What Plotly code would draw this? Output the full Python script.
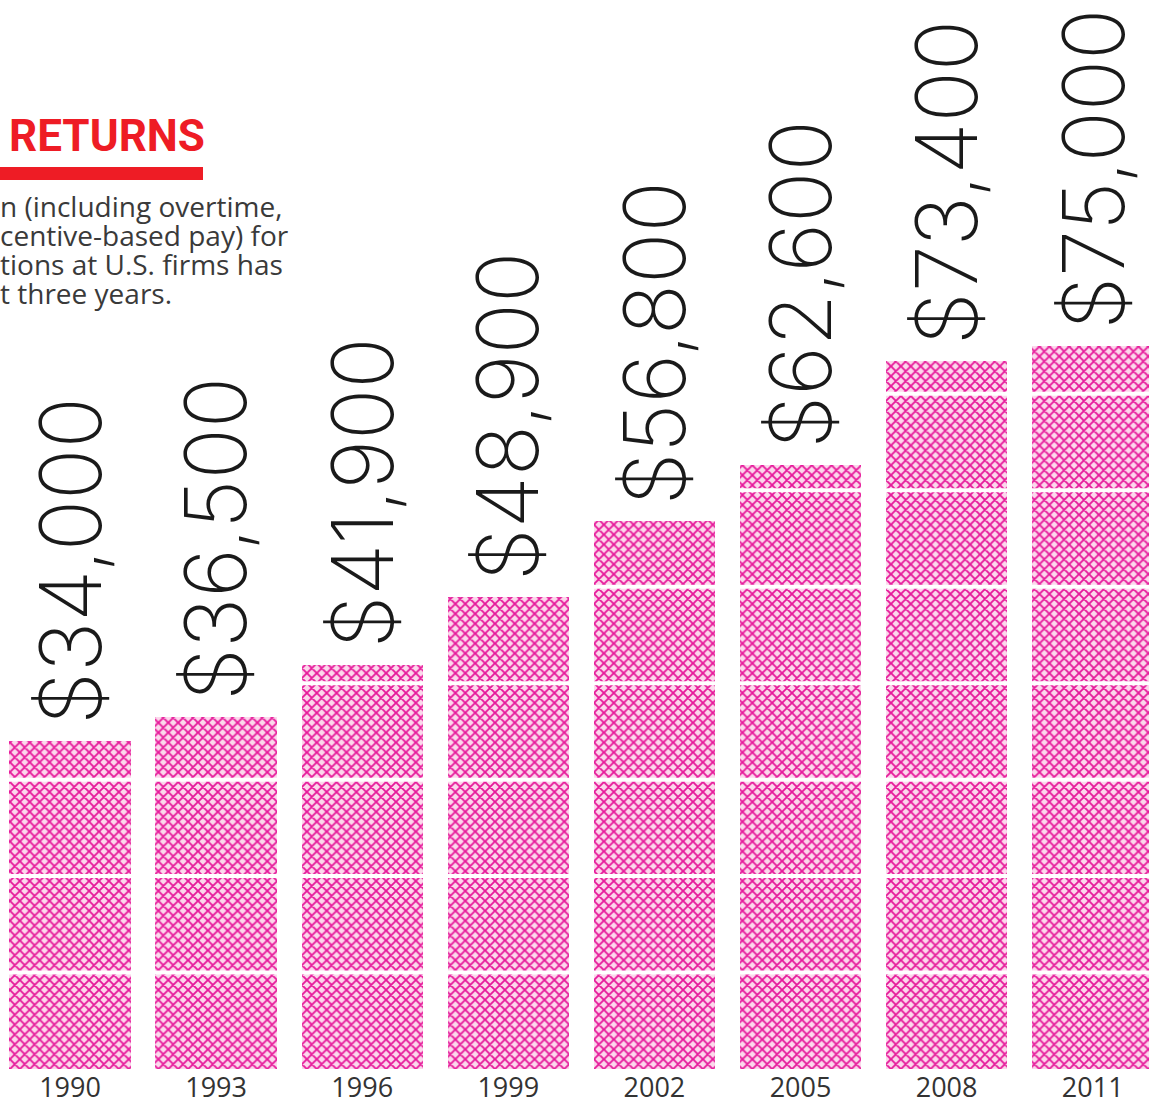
import plotly.graph_objects as go

# Median compensation by survey year
years = ["1990", "1993", "1996", "1999", "2002", "2005", "2008", "2011"]
values = [34000, 36500, 41900, 48900, 56800, 62600, 73400, 75000]
value_labels = ["$34,000", "$36,500", "$41,900", "$48,900",
                "$56,800", "$62,600", "$73,400", "$75,000"]
band_step = 10000

title_text = "RETURNS"
subtitle_lines = ["n (including overtime,",
                  "centive-based pay) for",
                  "tions at U.S. firms has",
                  "t three years."]

W, H = 1149, 1102
PLOT_H = H - 33
PINK = "#e6189a"

fig = go.Figure()
fig.add_trace(go.Bar(
    x=list(range(len(years))),
    y=values,
    width=0.83,
    marker=dict(
        color="#f9c4e2",
        line=dict(width=0),
        pattern=dict(shape="x", fgcolor=PINK, bgcolor="#fcd8ec",
                     size=7, solidity=0.45, fillmode="replace"),
    ),
    hoverinfo="skip",
))

shapes = []
# white separators every 10,000 inside each bar
for i, v in enumerate(values):
    k = band_step
    while k < v:
        shapes.append(dict(type="line", xref="x", yref="y",
                           x0=i - 0.43, x1=i + 0.43, y0=k, y1=k,
                           line=dict(color="white", width=4), layer="above"))
        k += band_step

# red rule under the heading
shapes.append(dict(type="rect", xref="paper", yref="paper",
                   x0=-0.01, x1=203 / W, y0=1 - 180 / PLOT_H, y1=1 - 167 / PLOT_H,
                   fillcolor="#ee1c25", line=dict(width=0), layer="above"))

annotations = []
for i, (v, lab) in enumerate(zip(values, value_labels)):
    annotations.append(dict(
        x=i, y=v, xref="x", yref="y", text=lab, showarrow=False,
        textangle=-90, xanchor="center", yanchor="bottom", yshift=14,
        font=dict(family="Inter", size=85, color="#1a1a1a", weight=200),
    ))

annotations.append(dict(
    x=7 / W, y=1 - 164 / PLOT_H, xref="paper", yref="paper",
    text=title_text, showarrow=False, xanchor="left", yanchor="bottom",
    font=dict(family="Roboto", size=44, color="#ee1c25", weight=700),
))

# description lines, each placed on a 29 px baseline grid
for j, line in enumerate(subtitle_lines):
    annotations.append(dict(
        x=-2 / W, y=1 - (206 + 29 * j) / PLOT_H, xref="paper", yref="paper",
        text=line, showarrow=False, xanchor="left", yanchor="middle",
        align="left",
        font=dict(family="Open Sans", size=28, color="#3a3a3a"),
    ))

# category spacing of ~146 px, first bar centered near x=70
spacing = 146.1
x0 = -70 / spacing
x1 = x0 + W / spacing

fig.update_layout(
    width=W, height=H,
    margin=dict(l=0, r=0, t=0, b=33),
    paper_bgcolor="white", plot_bgcolor="white",
    showlegend=False,
    bargap=0,
    xaxis=dict(range=[x0, x1], tickvals=list(range(len(years))),
               ticktext=years, showgrid=False, zeroline=False, showline=False,
               ticks="", automargin=False, ticklabelstandoff=0,
               tickfont=dict(family="Open Sans", size=27, color="#333333")),
    yaxis=dict(range=[0, PLOT_H / 9.645 * 1000], visible=False,
               showgrid=False, zeroline=False, automargin=False),
    shapes=shapes,
    annotations=annotations,
)

fig.write_html("out.html")
